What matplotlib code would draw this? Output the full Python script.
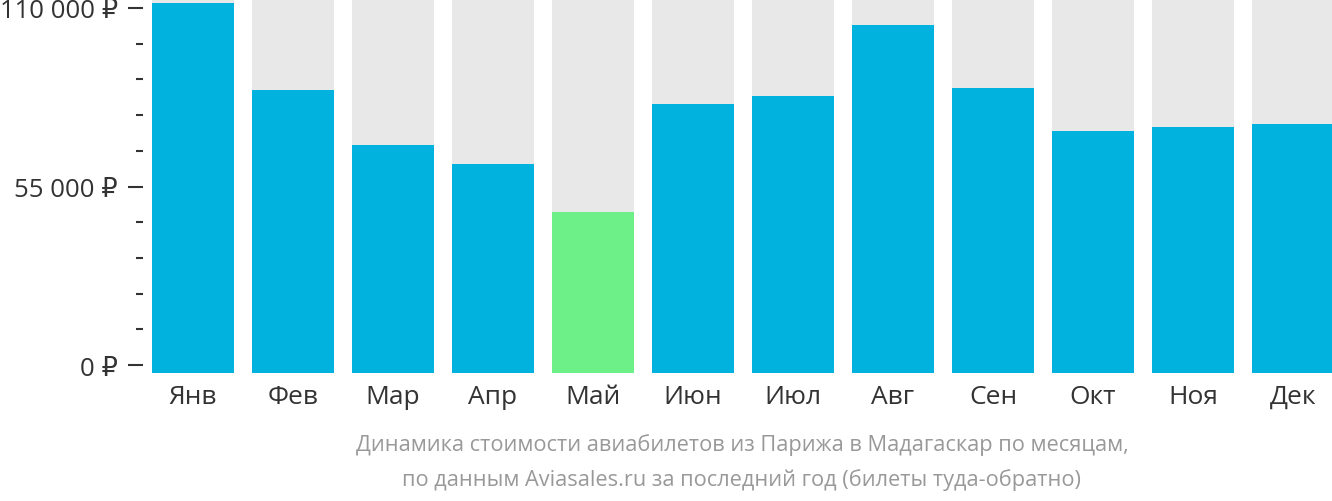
import matplotlib
matplotlib.use('Agg')
import matplotlib.pyplot as plt
from matplotlib.ticker import MultipleLocator, FixedLocator

plt.rcParams['font.family'] = ['Open Sans', 'DejaVu Sans']

# данные
months = ['Янв', 'Фев', 'Мар', 'Апр', 'Май', 'Июн', 'Июл', 'Авг', 'Сен', 'Окт', 'Ноя', 'Дек']
prices = [111500, 84700, 67800, 61900, 47100, 80400, 82900, 104800, 85300, 72100, 73300, 74300]
cheapest = 'Май'
ytick_vals = [0, 55000, 110000]
ytick_labels = ['0 ₽', '55 000 ₽', '110 000 ₽']

blue = '#00b2dd'
green = '#6df087'
grey = '#e8e8e8'

fig = plt.figure(figsize=(13.32, 5.02), dpi=100)
ax = fig.add_axes([143/1332, 128/502, 1189/1332, 374/502])

ymax = 112770
ymin = -2460
x = list(range(len(months)))
ax.bar(x, [ymax - ymin]*len(x), bottom=ymin, width=0.82, color=grey, zorder=1)
cols = [green if m == cheapest else blue for m in months]
ax.bar(x, [p - ymin for p in prices], bottom=ymin, width=0.82, color=cols, zorder=2)

ax.set_xlim(-0.5, 11.39)
ax.set_ylim(ymin, ymax)

for s in ax.spines.values():
    s.set_visible(False)

ax.set_xticks(x)
ax.set_xticklabels(months, fontsize=19, color='#333333')
ax.tick_params(axis='x', length=0, pad=8)

ax.yaxis.set_major_locator(FixedLocator(ytick_vals))
ax.set_yticklabels(ytick_labels, fontsize=18.5, color='#333333')
ax.yaxis.set_minor_locator(MultipleLocator(11000))
ax.tick_params(axis='y', which='major', length=11, width=1.5, color='#333333', pad=7)
ax.tick_params(axis='y', which='minor', length=5, width=1.5, color='#333333')

fig.text(0.557, 0.113, 'Динамика стоимости авиабилетов из Парижа в Мадагаскар по месяцам,',
         ha='center', va='center', fontsize=15.7, color='#999999')
fig.text(0.557, 0.043, 'по данным Aviasales.ru за последний год (билеты туда-обратно)',
         ha='center', va='center', fontsize=15.7, color='#999999')

fig.savefig('out.png', dpi=100)
